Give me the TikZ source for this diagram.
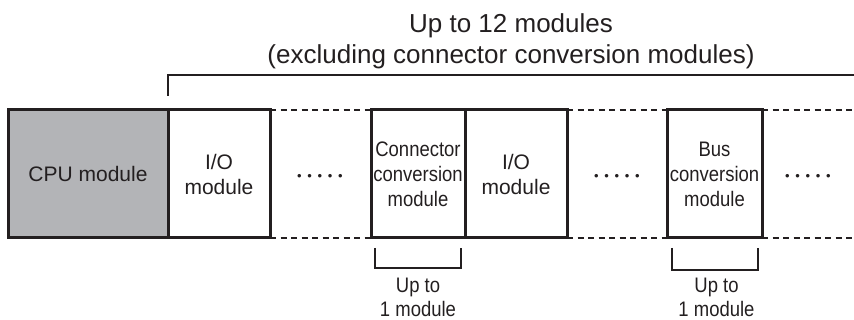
\documentclass[tikz,border=0pt]{standalone}
\usepackage{fontspec}
\setmainfont{Liberation Sans}
\newfontfamily\narrowsf{Liberation Sans}[FakeStretch=0.88]
\usepackage{xcolor}
\usetikzlibrary{calc,positioning}

\definecolor{ink}{HTML}{231F20}
\definecolor{cpugray}{HTML}{B3B4B7}
\newcommand{\dotrow}{•\hspace{5.7pt}•\hspace{5.7pt}•\hspace{5.7pt}•\hspace{5.7pt}•}

\begin{document}
\begin{tikzpicture}[
  x=1pt,
  y=-1pt,
  modbox/.style={draw=ink,line width=3pt,minimum height=128pt,inner sep=0pt,outer sep=0pt,
    align=center,text=ink,font=\fontsize{21}{25}\selectfont},
  narrowbox/.style={modbox,font=\narrowsf\fontsize{21}{25}\selectfont},
  gap/.style={draw=ink,line width=2pt,dash pattern=on 6pt off 4.5pt},
  brk/.style={draw=ink,line width=2pt},
  lbl/.style={font=\narrowsf\fontsize{21}{24}\selectfont,align=center,inner sep=0pt,anchor=north,text=ink},
  dotsrow/.style={font=\fontsize{13}{13}\selectfont,inner sep=0pt,anchor=base,text=ink}
]
  \useasboundingbox (0,0) rectangle (854,320);

  % title over the extension modules
  \node[font=\fontsize{26}{31}\selectfont,align=center,inner sep=0pt,anchor=north,text=ink] (title)
    at (511,13) {Up to 12 modules\\(excluding connector conversion modules)};
  \coordinate (spanL) at (168,96);
  \coordinate (spanR) at (854,75);
  \draw[brk] (spanL) |- (spanR);

  % module row
  \node[modbox,fill=cpugray,minimum width=160pt] (cpu) at (88,174) {CPU module};
  \node[modbox,minimum width=102pt] (io1) at (219,174) {I/O\\module};
  \node[narrowbox,minimum width=94pt] (conn) at (418,174) {Connector\\conversion\\module};
  \node[modbox,minimum width=102pt] (io2) at (516,174) {I/O\\module};
  \node[narrowbox,minimum width=95pt] (bus) at (714.5,174) {Bus\\conversion\\module};
  \coordinate (endT) at (854,110);
  \coordinate (endB) at (854,238);

  % omitted modules
  \draw[gap] (io1.north east) -- (conn.north west);
  \draw[gap] (io1.south east) -- (conn.south west);
  \draw[gap] (io2.north east) -- (bus.north west);
  \draw[gap] (io2.south east) -- (bus.south west);
  \draw[gap] (bus.north east) -- (endT);
  \draw[gap] (bus.south east) -- (endB);
  \node[dotsrow] (gapA) at (320,181) {\dotrow};
  \node[dotsrow] (gapB) at (617,181) {\dotrow};
  \node[dotsrow] (gapC) at (808,181) {\dotrow};

  % limits below
  \draw[brk] ($(conn.south west)+(4,10)$) |- ($(conn.south east)+(-4,30)$) -- ++(0,-20);
  \draw[brk] ($(bus.south west)+(5,10)$) |- ($(bus.south east)+(-4,32)$) -- ++(0,-22);
  \node[lbl] (connlim) at ($(conn.south)+(0,40)$) {Up to\\1 module};
  \node[lbl] (buslim) at ($(bus.south)+(2,40)$) {Up to\\1 module};
\end{tikzpicture}
\end{document}
